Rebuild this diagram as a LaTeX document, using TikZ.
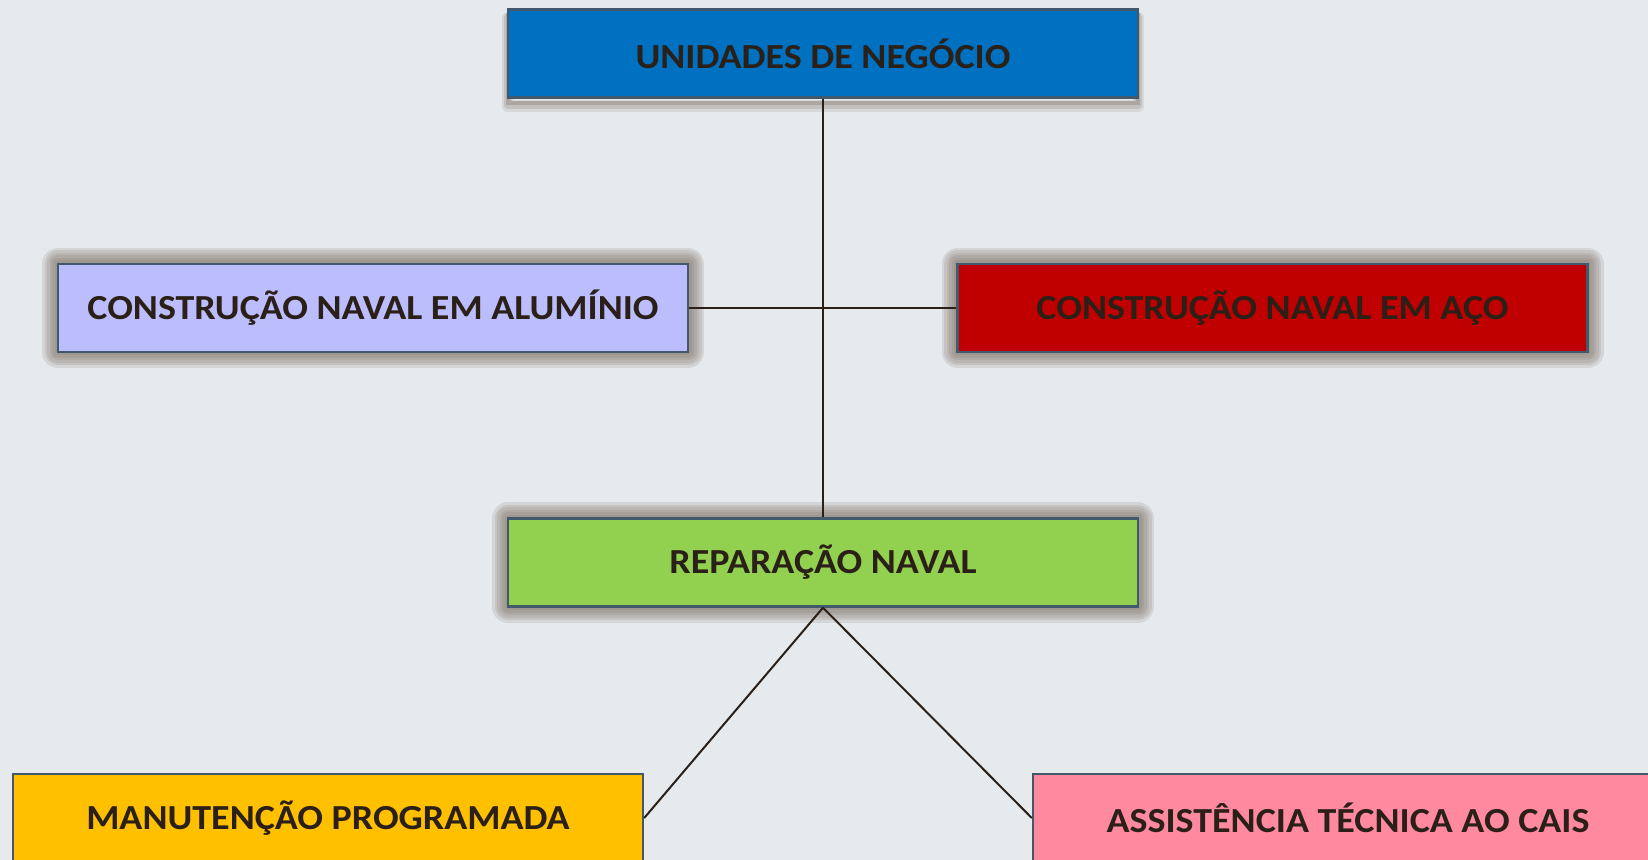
\documentclass[tikz,border=0pt]{standalone}
\usepackage{fontspec}
\setmainfont{Carlito}[FakeStretch=1.08]
\usetikzlibrary{positioning}
\definecolor{fundo}{HTML}{E6EAED}
\definecolor{borda}{HTML}{41596B}
\definecolor{linha}{HTML}{2B2018}
\definecolor{texto}{HTML}{2B2018}
\definecolor{sombracor}{HTML}{7B6D63}
\definecolor{azul}{HTML}{0070C0}
\definecolor{lilas}{HTML}{BBBDFC}
\definecolor{vermelho}{HTML}{C00000}
\definecolor{verde}{HTML}{92D050}
\definecolor{laranja}{HTML}{FFC000}
\definecolor{rosa}{HTML}{FF8AA0}
\tikzset{
  caixa/.style={draw=borda, line width=1.2pt, minimum width=315pt, minimum height=44pt,
    inner sep=0pt, text=texto, font=\fontsize{17.6}{20}\selectfont\bfseries},
  camada/.style={preaction={draw=sombracor, line width=#1, opacity=0.16, line join=round}},
  brilho/.style={camada=16pt, camada=13.5pt, camada=11pt, camada=8.5pt, camada=6pt, camada=3.5pt},
  sombra/.style={
    preaction={draw=sombracor, line width=6pt, opacity=0.15, line join=round,
      transform canvas={yshift=-4.5pt}},
    preaction={draw=sombracor, line width=4pt, opacity=0.2, line join=round,
      transform canvas={yshift=-4pt}},
    preaction={draw=sombracor, line width=2pt, opacity=0.3,
      transform canvas={yshift=-3pt}}},
  ligacao/.style={draw=linha, line width=1pt}
}
\begin{document}
\begin{tikzpicture}[x=0.5pt,y=-0.5pt]
    \fill[fundo] (0,0) rectangle (1648,860);
    \useasboundingbox (0,0) rectangle (1648,860);

    \node[caixa, sombra, fill=azul] (unidades) at (823,53.5) {UNIDADES DE NEGÓCIO};
    \node[caixa, brilho, fill=lilas] (aluminio) at (373,308) {CONSTRUÇÃO NAVAL EM ALUMÍNIO};
    \node[caixa, brilho, fill=vermelho] (aco) at (1272.5,308) {CONSTRUÇÃO NAVAL EM AÇO};
    \node[caixa, brilho, fill=verde] (reparacao) at (823,562.5) {REPARAÇÃO NAVAL};
    \node[caixa, fill=laranja] (manutencao) at (328,818) {MANUTENÇÃO PROGRAMADA};
    \node[caixa, fill=rosa] (assistencia) at (1348,818) {ASSISTÊNCIA TÉCNICA AO CAIS};

    \draw[ligacao] (unidades.south) -- (reparacao.north);
    \draw[ligacao] (aluminio.east) -- (aco.west);
    \draw[ligacao] (reparacao.south) -- (manutencao.east);
    \draw[ligacao] (reparacao.south) -- (assistencia.west);
\end{tikzpicture}
\end{document}
